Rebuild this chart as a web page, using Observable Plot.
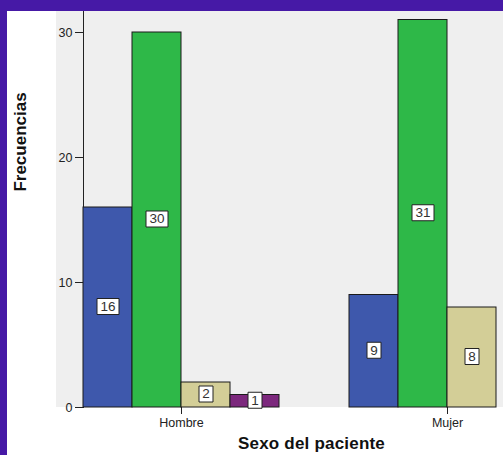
<!DOCTYPE html>
<html><head><meta charset="utf-8">
<script src="https://cdn.jsdelivr.net/npm/d3@7"></script>
<script src="https://cdn.jsdelivr.net/npm/@observablehq/plot@0.6"></script>
<style>
html,body{margin:0;padding:0;width:503px;height:455px;overflow:hidden;background:#4619A6;}
#chart{position:absolute;left:7px;top:11px;width:496px;height:444px;overflow:hidden;background:#fff;}
#chart svg path.domain{stroke:#888;}
#chart svg g[aria-label$="axis line"]{stroke:#888;}
</style></head><body><div id="chart"></div>
<script>
const sexes = ["Hombre", "Mujer"];
const categories = ["Categoría 1", "Categoría 2", "Categoría 3", "Categoría 4"];
const hombreValues = [16, 30, 2, 1];
const mujerValues = [9, 31, 8, 0];
const colors = ["#3E58AC", "#2EB848", "#D3CE97", "#7C287D"];
const yTicks = [0, 10, 20, 30];
const xTitle = "Sexo del paciente";
const yTitle = "Frecuencias";

const data = [];
sexes.forEach((s, si) => {
  const vals = si === 0 ? hombreValues : mujerValues;
  categories.forEach((c, ci) => {
    if (vals[ci] > 0) data.push({sex: s, cat: c, value: vals[ci]});
  });
});

// label box symbols (box width depends on number of digits)
const boxSymbol = (w, h) => ({draw(ctx) { ctx.rect(-w / 2, -h / 2, w, h); }});
const oneDigit = d => String(d.value).length === 1;
const twoDigit = d => String(d.value).length > 1;

const W = 565, H = 444, ML = 49, MB = 48;
const plot = Plot.plot({
  width: W, height: H, marginLeft: ML, marginRight: 0, marginTop: 0, marginBottom: MB,
  style: {fontFamily: "'Liberation Sans', Arial, sans-serif", fontSize: "12.5px", color: "#222", background: "transparent", maxWidth: "none", overflow: "visible"},
  facet: {data, x: "sex"},
  fx: {domain: sexes, paddingInner: 0.2622, paddingOuter: 0.0974, label: null, axis: "bottom", tickSize: 7, tickPadding: 4, line: true},
  x: {domain: categories, padding: 0, axis: null},
  y: {domain: [0, 31.68], ticks: yTicks, tickSize: 8, tickPadding: 3, label: null, line: true},
  color: {domain: categories, range: colors},
  marks: [
    Plot.barY(data, {x: "cat", y: "value", fill: "cat", stroke: "#1a1a1a", strokeWidth: 1}),
    Plot.dot(data, {filter: twoDigit, x: "cat", y: d => d.value / 2, symbol: boxSymbol(22, 16), r: 5, fill: "#fff", stroke: "#222", strokeWidth: 1, dy: -1}),
    Plot.dot(data, {filter: oneDigit, x: "cat", y: d => d.value / 2, symbol: boxSymbol(14, 16), r: 5, fill: "#fff", stroke: "#222", strokeWidth: 1, dy: -1}),
    Plot.text(data, {x: "cat", y: d => d.value / 2, text: d => String(d.value), fill: "#333", fontSize: 13.5, dy: -1})
  ]
});
document.getElementById("chart").appendChild(plot);

const svg = d3.select(plot);
const y0 = plot.scale("y").apply(0);
svg.insert("rect", ":first-child")
  .attr("x", ML).attr("y", 0).attr("width", W - ML).attr("height", y0)
  .attr("fill", "#EFEFEF");

svg.append("text")
  .attr("transform", `translate(19,${131}) rotate(-90)`)
  .attr("text-anchor", "middle")
  .attr("font-weight", "bold").attr("font-size", 17).attr("fill", "#111")
  .text(yTitle);
svg.append("text")
  .attr("x", 304.5).attr("y", 438)
  .attr("text-anchor", "middle")
  .attr("font-weight", "bold").attr("font-size", 17).attr("fill", "#111")
  .attr("letter-spacing", 0.2)
  .text(xTitle);
</script></body></html>
